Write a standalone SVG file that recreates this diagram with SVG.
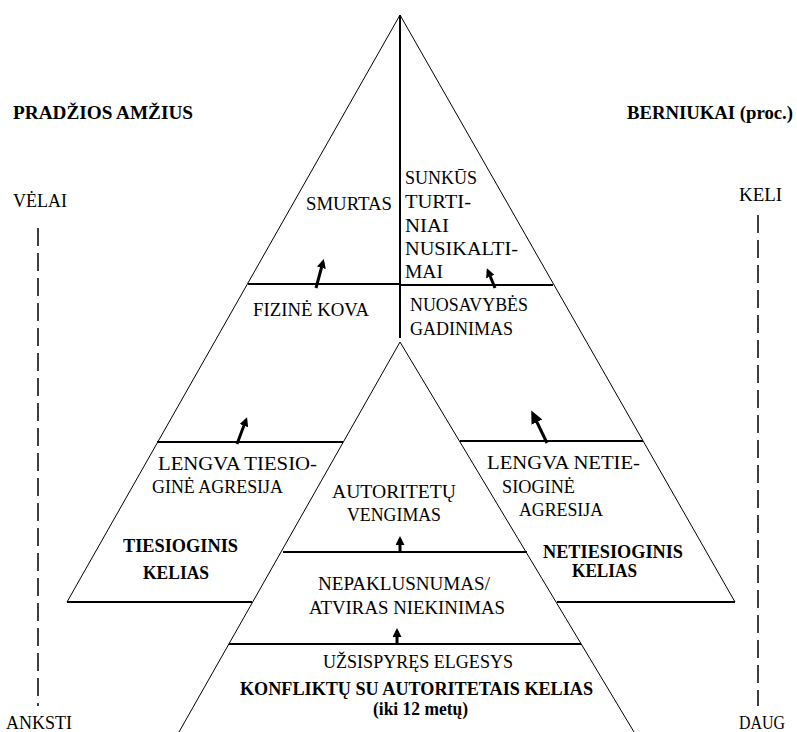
<svg xmlns="http://www.w3.org/2000/svg" width="797" height="732" viewBox="0 0 797 732">
<style>
.t{font-family:"Liberation Serif","DejaVu Serif",serif;font-size:19px;fill:#000}
.b{font-family:"Liberation Serif","DejaVu Serif",serif;font-size:18px;font-weight:bold;fill:#000}
.thin{stroke:#000;stroke-width:1;fill:none}
.hl{stroke:#000;stroke-width:2;fill:none}
.dash{stroke:#000;stroke-width:1.5;stroke-dasharray:18,7;fill:none}
.arr{stroke:#000;stroke-width:3;fill:none;marker-end:url(#ah)}
.arr2{stroke:#000;stroke-width:3;fill:none;marker-end:url(#ah2)}
</style>
<defs>
<marker id="ah" markerUnits="userSpaceOnUse" markerWidth="10" markerHeight="9" refX="6" refY="4.5" orient="auto"><path d="M0,0 L9,4.5 L0,9 z" fill="#000"/></marker>
<marker id="ah2" markerUnits="userSpaceOnUse" markerWidth="14" markerHeight="12" refX="9" refY="6" orient="auto"><path d="M0,0 L13,6 L0,12 z" fill="#000"/></marker>
</defs>
<rect width="797" height="732" fill="#fff"/>

<g id="frame">
<polyline class="thin" points="67,602 400,15 735,602"/>
<line class="hl" x1="67" y1="602" x2="252" y2="602"/>
<line class="hl" x1="557" y1="602" x2="735" y2="602"/>
<line class="hl" x1="400" y1="15" x2="400" y2="338"/>
<line class="thin" x1="400" y1="342" x2="179" y2="732"/>
<line class="thin" x1="400" y1="342" x2="634" y2="732"/>
<line class="hl" x1="248" y1="284" x2="400" y2="284"/>
<line class="hl" x1="400" y1="285" x2="553" y2="285"/>
<line class="hl" x1="157" y1="442" x2="343" y2="442"/>
<line class="hl" x1="460" y1="441" x2="643" y2="441"/>
<line class="hl" x1="283" y1="552" x2="527" y2="552"/>
<line class="hl" x1="229" y1="644" x2="581" y2="644"/>
</g>

<g id="axis-left">
<text class="b" x="13" y="119" textLength="180" lengthAdjust="spacingAndGlyphs">PRADŽIOS AMŽIUS</text>
<text class="t" x="13" y="207" textLength="54" lengthAdjust="spacingAndGlyphs">VĖLAI</text>
<line class="dash" x1="38" y1="228" x2="38" y2="706"/>
<text class="t" x="6" y="729" textLength="66" lengthAdjust="spacingAndGlyphs">ANKSTI</text>
</g>

<g id="axis-right">
<text class="b" x="627" y="119" textLength="166" lengthAdjust="spacingAndGlyphs">BERNIUKAI (proc.)</text>
<text class="t" x="739" y="201" textLength="43" lengthAdjust="spacingAndGlyphs">KELI</text>
<line class="dash" x1="758" y1="215" x2="758" y2="706"/>
<text class="t" x="739" y="729" textLength="46" lengthAdjust="spacingAndGlyphs">DAUG</text>
</g>

<g id="smurtas">
<text class="t" x="306" y="210" textLength="86" lengthAdjust="spacingAndGlyphs">SMURTAS</text>
</g>

<g id="sunkus-nusikaltimai">
<text class="t" x="405" y="184" textLength="72" lengthAdjust="spacingAndGlyphs">SUNKŪS</text>
<text class="t" x="405" y="208" textLength="66" lengthAdjust="spacingAndGlyphs">TURTI-</text>
<text class="t" x="405" y="232" textLength="44" lengthAdjust="spacingAndGlyphs">NIAI</text>
<text class="t" x="405" y="255" textLength="113" lengthAdjust="spacingAndGlyphs">NUSIKALTI-</text>
<text class="t" x="405" y="278" textLength="38" lengthAdjust="spacingAndGlyphs">MAI</text>
</g>

<g id="fizine-kova">
<text class="t" x="253" y="316" textLength="116" lengthAdjust="spacingAndGlyphs">FIZINĖ KOVA</text>
</g>

<g id="nuosavybes-gadinimas">
<text class="t" x="410" y="311" textLength="118" lengthAdjust="spacingAndGlyphs">NUOSAVYBĖS</text>
<text class="t" x="410" y="335" textLength="103" lengthAdjust="spacingAndGlyphs">GADINIMAS</text>
</g>

<g id="lengva-tiesiogine">
<text class="t" x="158" y="470" textLength="159" lengthAdjust="spacingAndGlyphs">LENGVA TIESIO-</text>
<text class="t" x="152" y="493" textLength="131" lengthAdjust="spacingAndGlyphs">GINĖ AGRESIJA</text>
<text class="b" x="123" y="552" textLength="115" lengthAdjust="spacingAndGlyphs">TIESIOGINIS</text>
<text class="b" x="143" y="579" textLength="66" lengthAdjust="spacingAndGlyphs">KELIAS</text>
</g>

<g id="lengva-netiesiogine">
<text class="t" x="487" y="469" textLength="153" lengthAdjust="spacingAndGlyphs">LENGVA NETIE-</text>
<text class="t" x="502" y="493" textLength="73" lengthAdjust="spacingAndGlyphs">SIOGINĖ</text>
<text class="t" x="519" y="516" textLength="84" lengthAdjust="spacingAndGlyphs">AGRESIJA</text>
<text class="b" x="543" y="558" textLength="140" lengthAdjust="spacingAndGlyphs">NETIESIOGINIS</text>
<text class="b" x="572" y="577" textLength="65" lengthAdjust="spacingAndGlyphs">KELIAS</text>
</g>

<g id="autoritetu-vengimas">
<text class="t" x="332" y="498" textLength="124" lengthAdjust="spacingAndGlyphs">AUTORITETŲ</text>
<text class="t" x="347" y="521" textLength="94" lengthAdjust="spacingAndGlyphs">VENGIMAS</text>
</g>

<g id="nepaklusnumas">
<text class="t" x="318" y="590" textLength="172" lengthAdjust="spacingAndGlyphs">NEPAKLUSNUMAS/</text>
<text class="t" x="309" y="614" textLength="196" lengthAdjust="spacingAndGlyphs">ATVIRAS NIEKINIMAS</text>
</g>

<g id="uzsispyres-elgesys">
<text class="t" x="323" y="668" textLength="190" lengthAdjust="spacingAndGlyphs">UŽSISPYRĘS ELGESYS</text>
<text class="b" x="240" y="695" textLength="353" lengthAdjust="spacingAndGlyphs">KONFLIKTŲ SU AUTORITETAIS KELIAS</text>
<text class="b" x="373" y="715" textLength="95" lengthAdjust="spacingAndGlyphs">(iki 12 metų)</text>
</g>

<g id="connectors">
<line class="arr" x1="316" y1="288" x2="323" y2="262"/>
<line class="arr" x1="495" y1="288" x2="488" y2="271"/>
<line class="arr" x1="237" y1="444" x2="246" y2="420"/>
<line class="arr2" x1="547" y1="443" x2="533" y2="414"/>
<line class="arr" x1="400" y1="552" x2="400" y2="539"/>
<line class="arr" x1="397" y1="644" x2="397" y2="631"/>
</g>
</svg>
